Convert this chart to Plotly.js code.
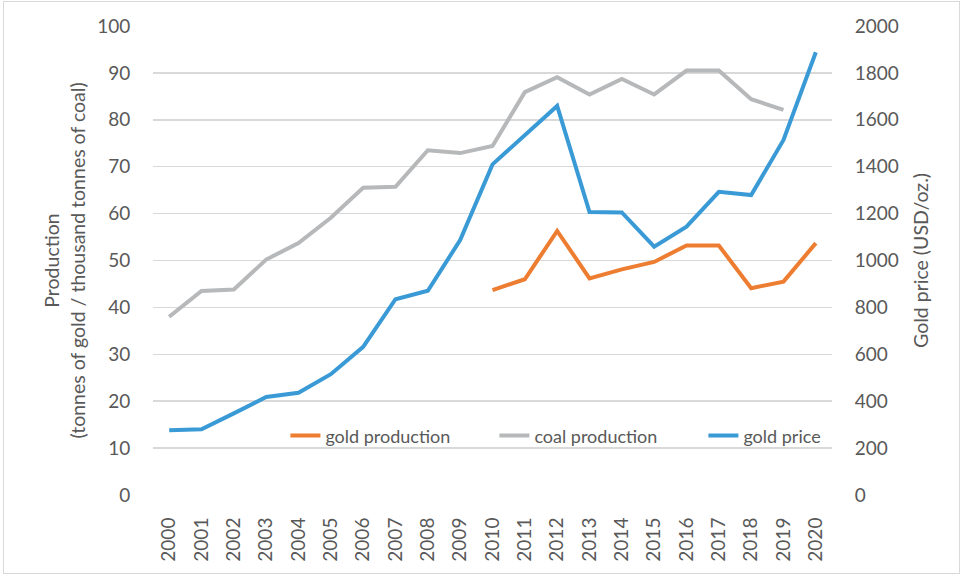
<!DOCTYPE html>
<html>
<head>
<meta charset="utf-8">
<script src="https://cdn.plot.ly/plotly-3.0.1.min.js"></script>
<style>
body{margin:0;padding:0;background:#fff;}
#wrap{position:relative;width:963px;height:576px;}
#chart{width:963px;height:576px;}
#frame{position:absolute;left:3px;top:1px;width:955px;height:571px;border:1.5px solid #d9d9d9;pointer-events:none;}
</style>
</head>
<body>
<div id="wrap"><div id="chart"></div><div id="frame"></div></div>
<script>
const years = ['2000','2001','2002','2003','2004','2005','2006','2007','2008','2009','2010','2011','2012','2013','2014','2015','2016','2017','2018','2019','2020'];
const goldProduction = [null,null,null,null,null,null,null,null,null,null,43.7,46.0,56.3,46.2,48.1,49.7,53.2,53.2,44.1,45.5,53.7];
const coalProduction = [38.0,43.5,43.8,50.2,53.7,59.1,65.5,65.7,73.5,72.9,74.4,85.9,89.1,85.4,88.7,85.4,90.5,90.5,84.4,82.1,null];
const goldPrice = [276,280,348,418,436,515,632,835,871,1087,1410,1535,1659,1207,1205,1059,1144,1293,1279,1514,1888];

const FONT = 'Lato, "Open Sans", sans-serif';
const GREY = '#595959';

const traces = [
  {x: years, y: goldProduction, name: 'gold production', type: 'scatter', mode: 'lines',
   line: {color: '#ED7D31', width: 4}, yaxis: 'y', connectgaps: false},
  {x: years, y: coalProduction, name: 'coal production', type: 'scatter', mode: 'lines',
   line: {color: '#B6B8BA', width: 4}, yaxis: 'y'},
  {x: years, y: goldPrice, name: 'gold price', type: 'scatter', mode: 'lines',
   line: {color: '#3A9AD6', width: 4}, yaxis: 'y2'}
];

const layout = {
  width: 963, height: 576,
  margin: {l: 153, r: 131, t: 26, b: 81},
  paper_bgcolor: '#fff', plot_bgcolor: '#fff',
  font: {family: FONT, color: GREY, size: 19},
  showlegend: true,
  legend: {orientation: 'h', x: 0.195, xanchor: 'left', y: 0.126, yanchor: 'middle',
    bgcolor: 'rgba(0,0,0,0)', font: {size: 18, color: GREY},
    entrywidth: 164, entrywidthmode: 'pixels', itemwidth: 30, traceorder: 'normal'},
  xaxis: {type: 'category', range: [-0.5, 20.5], tickangle: -90, showgrid: false,
    zeroline: false, showline: false, ticks: 'outside', ticklen: 14, tickcolor: 'rgba(0,0,0,0)',
    tickfont: {size: 19, color: GREY}, fixedrange: true},
  yaxis: {range: [0, 100], dtick: 10, showgrid: true, gridcolor: '#d9d9d9', gridwidth: 1.5,
    zeroline: false, showline: false, ticks: 'outside', ticklen: 18, tickcolor: 'rgba(0,0,0,0)',
    tickfont: {size: 19, color: GREY},
    title: {text: 'Production<br>(tonnes of gold / thousand tonnes of coal)', font: {size: 19.5, color: GREY}, standoff: 6}},
  yaxis2: {range: [0, 2000], dtick: 200, overlaying: 'y', side: 'right', showgrid: false,
    zeroline: false, showline: false, ticks: 'outside', ticklen: 18, tickcolor: 'rgba(0,0,0,0)',
    tickfont: {size: 19, color: GREY},
    title: {text: 'Gold price (USD/oz.)', font: {size: 19.5, color: GREY}, standoff: 16}}
};

Plotly.newPlot('chart', traces, layout, {displayModeBar: false, staticPlot: true});
</script>
</body>
</html>
